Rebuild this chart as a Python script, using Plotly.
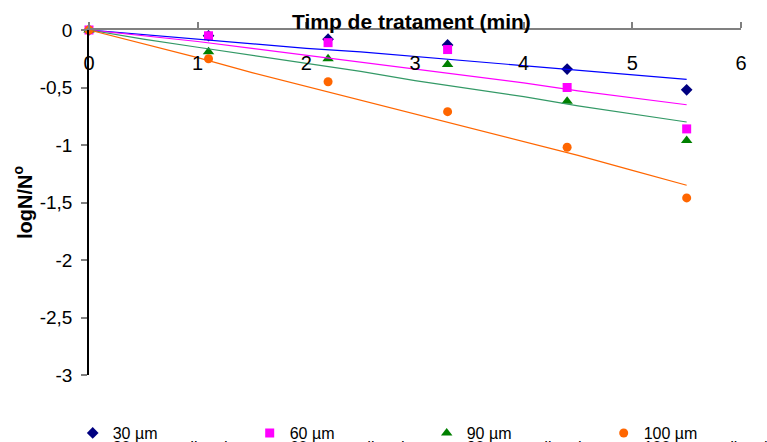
import plotly.graph_objects as go

# ---- data ----
time_pts = [0, 1.1, 2.2, 3.3, 4.4, 5.5]
obs_30 = [0, -0.05, -0.08, -0.13, -0.34, -0.52]
obs_60 = [0, -0.05, -0.11, -0.17, -0.50, -0.86]
obs_90 = [0, -0.19, -0.25, -0.30, -0.62, -0.96]
obs_100 = [0, -0.25, -0.45, -0.71, -1.02, -1.46]

time_line = [0, 0.5, 1.0, 1.5, 2.0, 2.5, 3.0, 3.5, 4.0, 4.5, 5.0, 5.5]
pred_30 = [0, -0.04, -0.08, -0.12, -0.16, -0.19, -0.23, -0.27, -0.31, -0.35, -0.39, -0.43]
pred_60 = [0, -0.05, -0.10, -0.16, -0.22, -0.28, -0.34, -0.40, -0.46, -0.53, -0.59, -0.65]
pred_90 = [0, -0.08, -0.15, -0.22, -0.29, -0.36, -0.44, -0.51, -0.58, -0.66, -0.73, -0.80]
pred_100 = [0, -0.12, -0.24, -0.37, -0.49, -0.61, -0.73, -0.85, -0.97, -1.09, -1.22, -1.35]

labels = ["30 µm", "60 µm", "90 µm", "100 µm"]
pred_labels = ["30 µm predicted", "60 µm predicted", "90 µm predicted", "100 µm predicted"]

y_tickvals = [0, -0.5, -1, -1.5, -2, -2.5, -3]
y_ticktext = ["0", "-0,5", "-1", "-1,5", "-2", "-2,5", "-3"]
x_tickvals = [0, 1, 2, 3, 4, 5, 6]
x_ticktext = ["0", "1", "2", "3", "4", "5", "6"]

FONT = "Liberation Sans, Arial, sans-serif"

marker_colors = ["#000080", "#FF00FF", "#008000", "#FF6600"]
marker_symbols = ["diamond", "square", "triangle-up", "circle"]
marker_sizes = [9, 9, 10, 9]
line_colors = ["#0000FF", "#FF00FF", "#339966", "#FF6600"]

fig = go.Figure()
obs = [obs_30, obs_60, obs_90, obs_100]
preds = [pred_30, pred_60, pred_90, pred_100]

for i in range(4):
    fig.add_trace(go.Scatter(
        x=time_pts, y=obs[i], mode="markers", name=labels[i],
        marker=dict(color=marker_colors[i], symbol=marker_symbols[i], size=marker_sizes[i]),
        cliponaxis=False, legend="legend"))
for i in range(4):
    fig.add_trace(go.Scatter(
        x=time_line, y=preds[i], mode="lines", name=pred_labels[i],
        line=dict(color=line_colors[i], width=1.2),
        cliponaxis=False, legend="legend2"))

# invisible helper trace so the tick-label axis (x2) is drawn
fig.add_trace(go.Scatter(x=time_pts, y=obs_30, xaxis="x2", mode="markers",
                         marker=dict(opacity=0), showlegend=False, hoverinfo="skip"))

legend_common = dict(orientation="h", xanchor="left", yanchor="top",
                     entrywidth=132, entrywidthmode="pixels",
                     font=dict(size=16, family=FONT), bgcolor="rgba(0,0,0,0)")

fig.update_layout(
    width=767, height=442,
    margin=dict(l=89, r=26, t=30, b=67, autoexpand=False),
    plot_bgcolor="white", paper_bgcolor="white",
    font=dict(family=FONT, color="black"),
    showlegend=True,
    legend=dict(x=-0.025, y=-0.119, **legend_common),
    legend2=dict(x=-0.025, y=-0.159, **legend_common),
    xaxis=dict(
        range=[0, 6], side="top", showline=True, linecolor="#808080", linewidth=1.5,
        ticks="outside", ticklen=6, tickcolor="#808080", tickwidth=1.5,
        tickvals=x_tickvals, showticklabels=False,
        showgrid=False, zeroline=False,
    ),
    xaxis2=dict(
        range=[0, 6], overlaying="x", side="bottom", anchor="free", position=0.945,
        showline=False, ticks="", showgrid=False, zeroline=False,
        tickvals=x_tickvals, ticktext=x_ticktext,
        tickfont=dict(size=20, family=FONT),
    ),
    yaxis=dict(
        range=[-3, 0], showline=True, linecolor="black", linewidth=1.5,
        ticks="outside", ticklen=6, tickcolor="#808080", tickwidth=1.5,
        tickvals=y_tickvals, ticktext=y_ticktext,
        ticklabelstandoff=5,
        tickfont=dict(size=19, family=FONT),
        showgrid=False, zeroline=False,
        title=dict(text="<b>logN/N<sup>o</sup></b>", font=dict(size=20, family=FONT), standoff=2),
    ),
    annotations=[dict(
        text="<b>Timp de tratament (min)</b>", xref="paper", yref="paper",
        x=0.494, y=1.026, xanchor="center", yanchor="middle", showarrow=False,
        font=dict(size=21, family=FONT))],
)

fig.write_html("out.html")
